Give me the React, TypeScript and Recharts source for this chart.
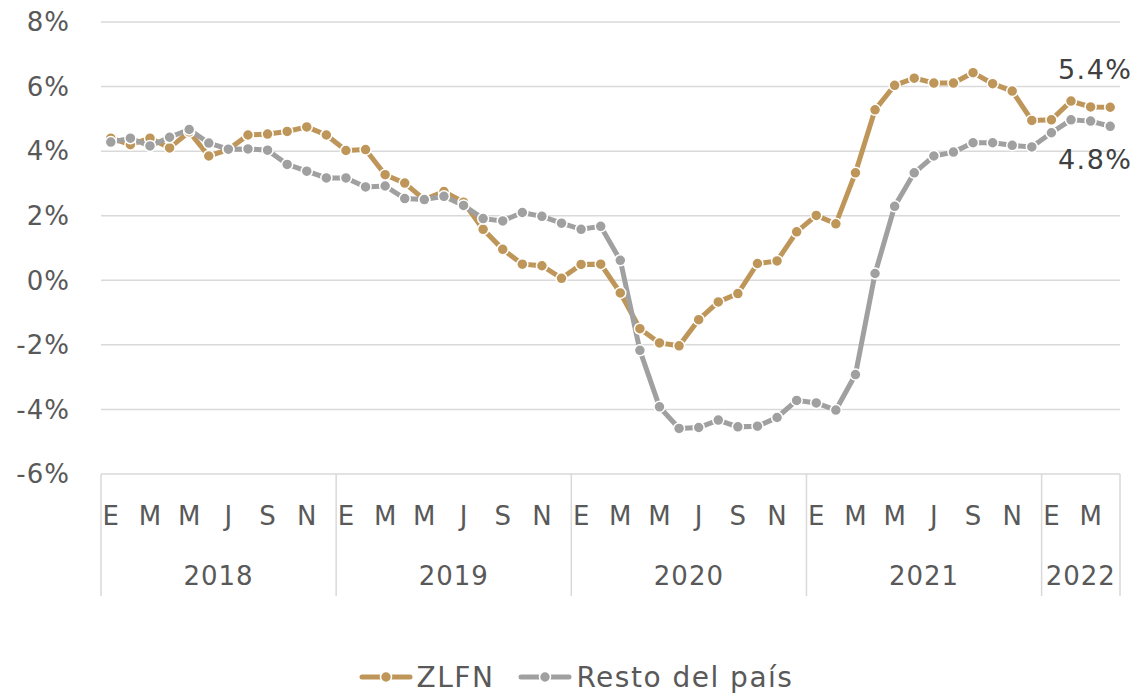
import React from 'react';
import { LineChart, Line, XAxis, YAxis, CartesianGrid, Legend, LabelList } from 'recharts';

const years = [2018, 2019, 2020, 2021, 2022];
const monthsPerYear = [12, 12, 12, 12, 4];
const monthInitials = ['E', 'F', 'M', 'A', 'M', 'J', 'J', 'A', 'S', 'O', 'N', 'D'];

const zlfn = [
  4.4, 4.2, 4.4, 4.1, 4.6, 3.85, 4.05, 4.5, 4.53, 4.61, 4.75, 4.5,
  4.02, 4.05, 3.27, 3.01, 2.5, 2.75, 2.42, 1.58, 0.96, 0.5, 0.45, 0.06,
  0.49, 0.5, -0.39, -1.5, -1.94, -2.03, -1.22, -0.67, -0.41, 0.52, 0.6, 1.5,
  2.01, 1.75, 3.33, 5.28, 6.04, 6.26, 6.11, 6.11, 6.43, 6.09, 5.86, 4.95,
  4.97, 5.55, 5.37, 5.36,
];
const resto = [
  4.28, 4.4, 4.16, 4.43, 4.67, 4.25, 4.06, 4.07, 4.03, 3.59, 3.38, 3.17,
  3.17, 2.89, 2.92, 2.53, 2.5, 2.6, 2.32, 1.91, 1.84, 2.1, 1.98, 1.77,
  1.58, 1.67, 0.62, -2.17, -3.92, -4.59, -4.56, -4.33, -4.54, -4.52, -4.25, -3.72,
  -3.8, -4.02, -2.92, 0.21, 2.29, 3.33, 3.85, 3.97, 4.26, 4.26, 4.18, 4.13,
  4.57, 4.97, 4.93, 4.77,
];
const yTicks = [-6, -4, -2, 0, 2, 4, 6, 8];
const seriesNames = ['ZLFN', 'Resto del país'];

const GOLD = '#BF965A';
const GREY = '#A0A0A0';
const TEXT = '#595959';
const GRID = '#D9D9D9';
const FONT = '"DejaVu Sans", sans-serif';

const rows: any[] = [];
years.forEach((yr, yi) => {
  for (let m = 0; m < monthsPerYear[yi]; m++) {
    rows.push({
      period: `${yr}-${m + 1}`,
      month: m,
      year: yr,
      yearMonths: monthsPerYear[yi],
      zlfn: zlfn[rows.length],
      resto: resto[rows.length],
    });
  }
});

const W = 1137;
const H = 694;
const PLOT_LEFT = 101;
const PLOT_RIGHT = 1120;
const N = rows.length;
const STEP = (PLOT_RIGHT - PLOT_LEFT) / N;

const XTick = (props: any) => {
  const { x, y, payload } = props;
  const i = rows.findIndex((r) => r.period === payload.value);
  if (i < 0) return null;
  const row = rows[i];
  return (
    <g>
      {row.month % 2 === 0 && (
        <text x={x} y={y + 42} dy="0.35em" textAnchor="middle" fill={TEXT} fontSize={26} fontFamily={FONT}>
          {monthInitials[row.month]}
        </text>
      )}
      {row.month === 0 && (
        <>
          <line x1={x - STEP / 2} x2={x - STEP / 2} y1={y} y2={y + 122} stroke={GRID} strokeWidth={1.5} />
          <text
            x={x - STEP / 2 + (row.yearMonths * STEP) / 2}
            y={y + 102}
            dy="0.35em"
            textAnchor="middle"
            fill={TEXT}
            fontSize={26}
            letterSpacing={1}
            fontFamily={FONT}
          >
            {row.year}
          </text>
        </>
      )}
      {i === N - 1 && (
        <line x1={x + STEP / 2} x2={x + STEP / 2} y1={y} y2={y + 122} stroke={GRID} strokeWidth={1.5} />
      )}
    </g>
  );
};

const LegendIcon = ({ color }: { color: string }) => (
  <svg width={54} height={16} style={{ display: 'block' }}>
    <line x1={3} x2={51} y1={8} y2={8} stroke={color} strokeWidth={5} strokeLinecap="round" />
    <circle cx={27} cy={8} r={5.5} fill={color} stroke="#fff" strokeWidth={1.5} />
  </svg>
);

const renderLegend = () => (
  <div
    style={{
      display: 'flex',
      justifyContent: 'center',
      alignItems: 'center',
      height: 50,
      paddingLeft: 32,
      paddingTop: 16,
      boxSizing: 'border-box',
      fontFamily: FONT,
      fontSize: 28,
      letterSpacing: 1.5,
      color: TEXT,
    }}
  >
    <div style={{ display: 'flex', alignItems: 'center', marginRight: 24 }}>
      <LegendIcon color={GOLD} />
      <span style={{ marginLeft: 4 }}>{seriesNames[0]}</span>
    </div>
    <div style={{ display: 'flex', alignItems: 'center' }}>
      <LegendIcon color={GREY} />
      <span style={{ marginLeft: 4 }}>{seriesNames[1]}</span>
    </div>
  </div>
);

const makeEndLabel = (dyOff: number) => (p: any) => {
  if (p.index !== N - 1) return null;
  const v = Number(p.value);
  return (
    <text
      x={p.x - 15}
      y={p.y + dyOff}
      dy="0.35em"
      textAnchor="middle"
      fill="#404040"
      fontSize={27}
      letterSpacing={1.5}
      fontFamily={FONT}
    >
      {`${v.toFixed(1)}%`}
    </text>
  );
};

export default function App() {
  return (
    <div style={{ position: 'absolute', left: 0, top: 0, width: W, height: H, background: '#fff' }}>
      <LineChart width={W} height={H} data={rows} margin={{ top: 22, right: W - PLOT_RIGHT, left: 0, bottom: 0 }}>
        <CartesianGrid vertical={false} stroke={GRID} strokeWidth={1.5} />
        <XAxis
          dataKey="period"
          interval={0}
          axisLine={false}
          tickLine={false}
          tickSize={0}
          tickMargin={0}
          height={170}
          padding={{ left: STEP / 2, right: STEP / 2 }}
          tick={<XTick />}
        />
        <YAxis
          type="number"
          domain={[-6, 8]}
          ticks={yTicks}
          interval={0}
          width={PLOT_LEFT}
          axisLine={false}
          tickLine={false}
          tickSize={6}
          tickMargin={25}
          tickFormatter={(v: number) => `${v}%`}
          tick={{ fill: TEXT, fontSize: 26, fontFamily: FONT, letterSpacing: 1 }}
        />
        <Legend verticalAlign="bottom" height={50} content={renderLegend} />
        <Line
          type="linear"
          dataKey="zlfn"
          name={seriesNames[0]}
          stroke={GOLD}
          strokeWidth={5}
          dot={{ r: 5.5, fill: GOLD, stroke: '#fff', strokeWidth: 1.5 }}
          isAnimationActive={false}
        >
          <LabelList dataKey="zlfn" content={makeEndLabel(-38)} />
        </Line>
        <Line
          type="linear"
          dataKey="resto"
          name={seriesNames[1]}
          stroke={GREY}
          strokeWidth={5}
          dot={{ r: 5.5, fill: GREY, stroke: '#fff', strokeWidth: 1.5 }}
          isAnimationActive={false}
        >
          <LabelList dataKey="resto" content={makeEndLabel(33)} />
        </Line>
      </LineChart>
    </div>
  );
}
